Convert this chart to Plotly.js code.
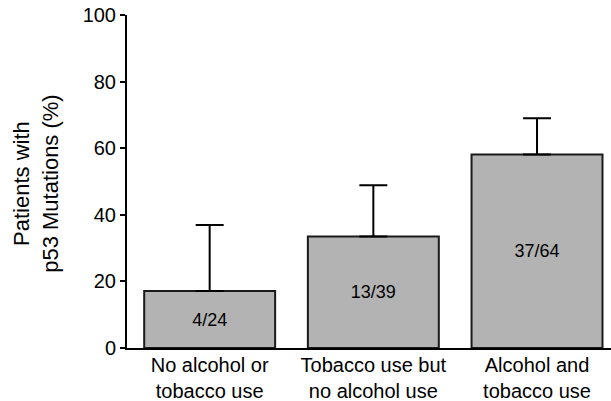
<!DOCTYPE html>
<html>
<head>
<meta charset="utf-8">
<script src="https://cdn.plot.ly/plotly-3.0.1.min.js"></script>
<style>html,body{margin:0;padding:0;background:#fff;}#chart{width:611px;height:401px;}</style>
</head>
<body>
<div id="chart"></div>
<script>
const categories = ["No alcohol or<br>tobacco use", "Tobacco use but<br>no alcohol use", "Alcohol and<br>tobacco use"];
const percent = [17.1, 33.5, 58.1];
const errorPlus = [19.8, 15.4, 10.9];
const barLabels = ["4/24", "13/39", "37/64"];
const yTicks = [0, 20, 40, 60, 80, 100];

const FONT = "Liberation Sans, Arial, Helvetica, sans-serif";

const trace = {
  type: "bar",
  x: [0, 1, 2],
  y: percent,
  width: 0.8,
  text: barLabels,
  textposition: "inside",
  insidetextanchor: "middle",
  textangle: 0,
  textfont: {family: FONT, size: 18, color: "#000"},
  marker: {color: "#b3b3b3", line: {color: "#1a1a1a", width: 2}},
  error_y: {type: "data", symmetric: false, array: errorPlus, arrayminus: [0,0,0], color: "#000", thickness: 2, width: 14},
  hoverinfo: "none",
  cliponaxis: false
};

const layout = {
  width: 611, height: 401,
  margin: {l: 127, r: 0, t: 15, b: 53},
  paper_bgcolor: "#fff", plot_bgcolor: "#fff",
  showlegend: false,
  font: {family: FONT, color: "#000"},
  xaxis: {
    range: [-0.505, 2.452],
    tickmode: "array", tickvals: [0, 1, 2], ticktext: categories,
    ticks: "", showgrid: false, zeroline: false,
    showline: true, linecolor: "#000", linewidth: 2,
    tickfont: {family: FONT, size: 20, color: "#000"},
    ticklabelstandoff: -2,
    automargin: false
  },
  yaxis: {
    range: [0, 100],
    tickmode: "array", tickvals: yTicks, ticktext: yTicks.map(String),
    ticks: "outside", ticklen: 5, tickwidth: 2, tickcolor: "#000",
    showgrid: false, zeroline: false,
    showline: true, linecolor: "#000", linewidth: 2,
    tickfont: {family: FONT, size: 20, color: "#000"},
    automargin: false
  },
  annotations: [{
    text: "Patients with<br>p53 Mutations (%)",
    xref: "paper", yref: "paper",
    x: (36 - 127) / 484, y: 0.493,
    xanchor: "center", yanchor: "middle",
    textangle: -90, showarrow: false,
    font: {family: FONT, size: 22, color: "#000"}
  }]
};

Plotly.newPlot("chart", [trace], layout, {displayModeBar: false, staticPlot: true});
</script>
</body>
</html>
